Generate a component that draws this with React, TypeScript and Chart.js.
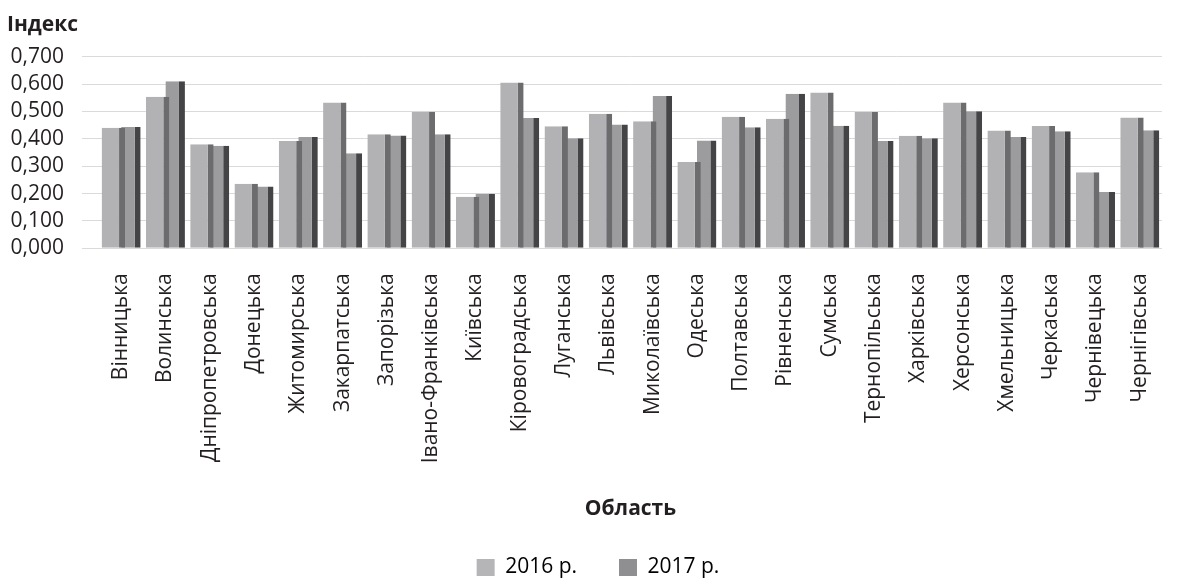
import { useEffect, useRef } from "react";
import { Chart, registerables } from "chart.js";

Chart.register(...registerables);

const regions = [
  "Вінницька",
  "Волинська",
  "Дніпропетровська",
  "Донецька",
  "Житомирська",
  "Закарпатська",
  "Запорізька",
  "Івано-Франківська",
  "Київська",
  "Кіровоградська",
  "Луганська",
  "Львівська",
  "Миколаївська",
  "Одеська",
  "Полтавська",
  "Рівненська",
  "Сумська",
  "Тернопільська",
  "Харківська",
  "Херсонська",
  "Хмельницька",
  "Черкаська",
  "Чернівецька",
  "Чернігівська",
];

const index2016 = [
  0.44, 0.554, 0.38, 0.236, 0.392, 0.533, 0.417, 0.499, 0.188, 0.606, 0.446, 0.492,
  0.464, 0.315, 0.481, 0.473, 0.569, 0.498, 0.411, 0.533, 0.43, 0.447, 0.278, 0.478,
];

const index2017 = [
  0.443, 0.61, 0.375, 0.226, 0.407, 0.347, 0.412, 0.417, 0.199, 0.476, 0.402, 0.452,
  0.556, 0.394, 0.442, 0.565, 0.448, 0.392, 0.402, 0.501, 0.407, 0.428, 0.206, 0.431,
];

const seriesLabels = ["2016 р.", "2017 р."];

const TEXT = "#231f20";
const FONT = "'Open Sans', 'Noto Sans', sans-serif";
const legendFill = ["#b5b5b8", "#8f8f92"];

export default function App() {
  const ref = useRef<HTMLCanvasElement>(null);

  useEffect(() => {
    if (!ref.current) return;
    Chart.defaults.font.family = FONT;
    const chart = new Chart(ref.current, {
      type: "bar",
      data: {
        labels: regions,
        datasets: [
          {
            label: seriesLabels[0],
            data: index2016,
            backgroundColor: "#b2b2b5",
            borderColor: "#6c6c6f",
            borderWidth: { top: 0, right: 6, bottom: 0, left: 0 },
            borderSkipped: false,
            inflateAmount: 0,
            categoryPercentage: 0.7045,
            barPercentage: 1.5,
          } as any,
          {
            label: seriesLabels[1],
            data: index2017,
            backgroundColor: "#9c9c9f",
            borderColor: "#444446",
            borderWidth: { top: 0, right: 6, bottom: 0, left: 0 },
            borderSkipped: false,
            inflateAmount: 0,
            categoryPercentage: 0.8807,
            barPercentage: 1,
          } as any,
        ],
      },
      options: {
        animation: false,
        responsive: true,
        maintainAspectRatio: false,
        layout: { padding: { left: 7, right: 1, top: 0, bottom: 0 } },
        scales: {
          x: {
            grid: { display: false, drawTicks: false },
            border: { display: false },
            ticks: {
              autoSkip: false,
              minRotation: 90,
              maxRotation: 90,
              padding: 25,
              color: TEXT,
              font: { size: 21 },
            },
            title: {
              display: true,
              text: "Область",
              color: TEXT,
              font: { size: 21, weight: "bold" },
              padding: { top: 0, bottom: -7 },
            },
            afterFit: (s: any) => {
              s.height = 266.7;
            },
          },
          y: {
            min: 0,
            max: 0.7,
            ticks: {
              stepSize: 0.1,
              autoSkip: false,
              padding: 18,
              color: TEXT,
              font: { size: 21 },
              callback: (v: any) => Number(v).toFixed(3).replace(".", ","),
            },
            grid: { color: "#dadada", lineWidth: 1, tickLength: 17, drawTicks: true },
            border: { display: false },
            afterFit: (s: any) => {
              s.width = 92;
            },
          },
        },
        plugins: {
          title: {
            display: true,
            text: "Індекс",
            align: "start",
            color: TEXT,
            font: { size: 21, weight: "bold" },
            padding: { top: 12, bottom: 19.5 },
          },
          legend: {
            position: "bottom",
            labels: {
              boxWidth: 18,
              boxHeight: 17,
              padding: 42,
              color: TEXT,
              font: { size: 21 },
              generateLabels: (c: any) =>
                c.data.datasets.map((ds: any, i: number) => ({
                  text: ds.label,
                  fillStyle: legendFill[i],
                  strokeStyle: legendFill[i],
                  lineWidth: 0,
                  hidden: !c.isDatasetVisible(i),
                  datasetIndex: i,
                })),
            },
          },
          tooltip: { enabled: false },
        },
      },
    });
    return () => chart.destroy();
  }, []);

  return (
    <div
      style={{
        position: "absolute",
        left: 0,
        top: 0,
        width: 1190,
        height: 580,
        overflow: "hidden",
        background: "#fff",
      }}
    >
      <div style={{ position: "relative", width: 1190, height: 588 }}>
        <canvas ref={ref} />
      </div>
    </div>
  );
}
